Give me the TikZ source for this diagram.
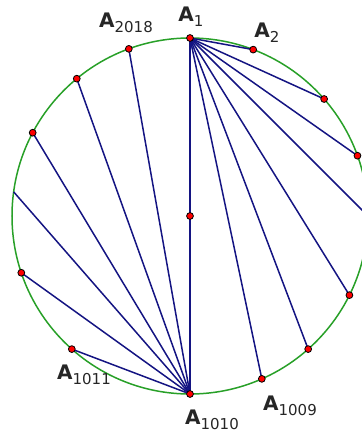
\documentclass[tikz,border=0pt]{standalone}
\usepackage{fontspec}
\setmainfont{DejaVu Sans}
\usetikzlibrary{positioning}
\usepackage{xcolor}
\definecolor{verdecirc}{RGB}{40,160,40}
\definecolor{azulcuerda}{RGB}{20,20,130}
\newcommand\Arot[1]{\textbf{A}\raisebox{-2.6pt}{\fontsize{7.5}{9}\selectfont #1}}
\tikzset{
  punto/.style={circle, draw=black, fill=red, line width=0.4pt,
                inner sep=0pt, minimum size=3.4pt},
  rotulo/.style={font=\fontsize{10}{12}\selectfont, text=black!85,
                 inner sep=0pt}
}

\begin{document}
\begin{tikzpicture}[x=0.5pt, y=0.5pt,
  circulo/.style={draw=verdecirc, line width=0.75pt},
  cuerda/.style={draw=azulcuerda, line width=0.75pt},
  diametro/.style={cuerda, line width=1pt}
]
  \clip (0,0) rectangle (362,436);
  % ── Circunferencia y vértices ──
  \coordinate (o) at (190,220);
  \draw[circulo] (o) circle (178);
  \path (o) ++(90:178)    coordinate (a1)
        (o) ++(69.2:178)  coordinate (a2)
        (o) ++(41.1:178)  coordinate (r1)
        (o) ++(19.8:178)  coordinate (r2)
        (o) ++(0:178)     coordinate (r3)
        (o) ++(-26.4:178) coordinate (r4)
        (o) ++(-48.4:178) coordinate (r5)
        (o) ++(-66.2:178) coordinate (a1009)
        (o) ++(-90:178)   coordinate (a1010)
        (o) ++(-131.6:178) coordinate (a1011)
        (o) ++(-161.4:178) coordinate (l1)
        (o) ++(172.2:178) coordinate (l2)
        (o) ++(152.1:178) coordinate (l3)
        (o) ++(129.5:178) coordinate (l4)
        (o) ++(110.1:178) coordinate (a2018);

  % ── Cuerdas desde A1 ──
  \foreach \q in {a2, r1, r2, r3, r4, r5, a1009}
    \draw[cuerda] (a1) -- (\q);
  \draw[diametro] (a1) -- (a1010);
  % ── Cuerdas desde A1010 ──
  \foreach \q in {a1011, l1, l2, l3, l4, a2018}
    \draw[cuerda] (a1010) -- (\q);

  % ── Puntos ──
  \foreach \q in {a1, a2, r1, r2, r4, r5, a1009, a1010, a1011, l1, l3, l4, a2018, o}
    \node[punto] (p\q) at (\q) {};

  % ── Rótulos ──
  \node[rotulo] (ra2018) at (126,413) {\Arot{2018}};
  \node[rotulo] (ra1)    at (191,419) {\Arot{1}};
  \node[rotulo] (ra2)    at (267,403) {\Arot{2}};
  \node[rotulo] (ra1011) at (84,61)   {\Arot{1011}};
  \node[rotulo] (ra1010) at (212,16)  {\Arot{1010}};
  \node[rotulo] (ra1009) at (290,30)  {\Arot{1009}};
\end{tikzpicture}
\end{document}
